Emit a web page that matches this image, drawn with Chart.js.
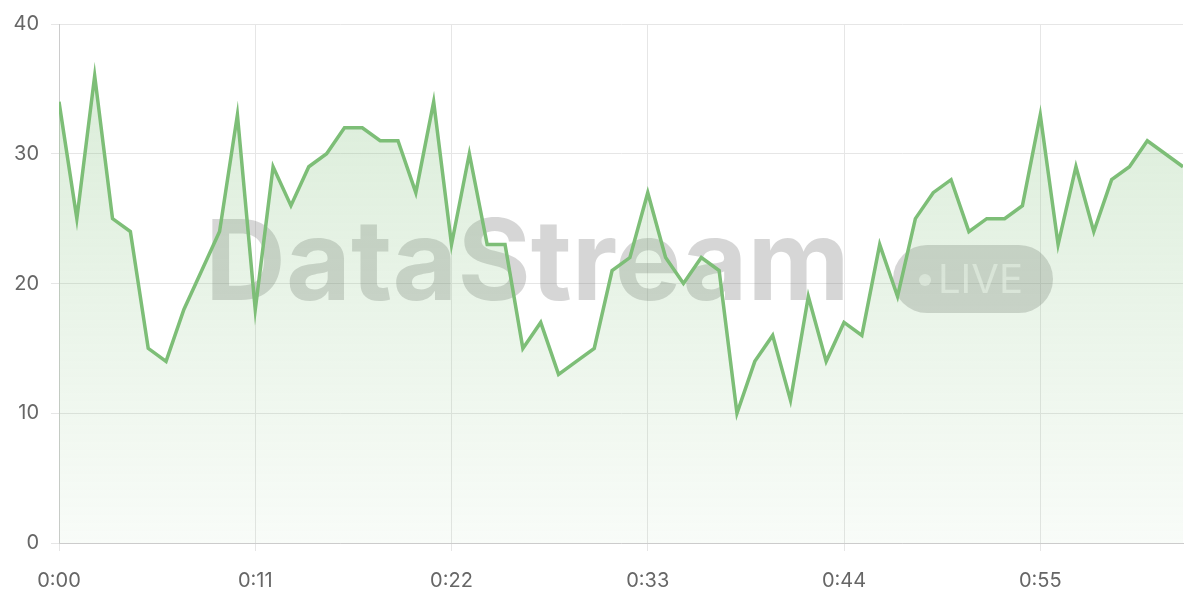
<!DOCTYPE html>
<html lang="en">
<head>
    <meta charset="UTF-8">
    <title>DataStream Live</title>
    <script src="https://cdn.jsdelivr.net/npm/chart.js"></script>
    <style>
        body { margin: 0; background: #fff; }
        #wrap { width: 1200px; height: 600px; }
    </style>
</head>
<body>
    <div id="wrap"><canvas id="streamChart"></canvas></div>
    <script>
        // one value per second, 0:00 .. 1:03
        const seconds = [...Array(64).keys()];
        const values = [34, 25, 36, 25, 24, 15, 14, 18, 21, 24, 33, 18, 29, 26, 29, 30,
                        32, 32, 31, 31, 27, 34, 23, 30, 23, 23, 15, 17, 13, 14, 15, 21,
                        22, 27, 22, 20, 22, 21, 10, 14, 16, 11, 19, 14, 17, 16, 23, 19,
                        25, 27, 28, 24, 25, 25, 26, 33, 23, 29, 24, 28, 29, 31, 30, 29];
        const tickSeconds = [0, 11, 22, 33, 44, 55];

        function fmtTime(s) {
            return Math.floor(s / 60) + ':' + String(s % 60).padStart(2, '0');
        }

        // watermark behind the line
        const watermark = {
            id: 'watermark',
            beforeDatasetsDraw(chart) {
                const c = chart.ctx;
                c.save();
                c.fillStyle = 'rgba(120,120,120,0.3)';
                c.font = 'bold 112px Inter, sans-serif';
                c.textBaseline = 'middle';
                c.fillText('DataStream', 205, 266);
                c.beginPath();
                c.roundRect(893, 245, 160, 68, 34);
                c.fill();
                c.fillStyle = 'rgba(255,255,255,0.55)';
                c.beginPath();
                c.arc(925, 280, 6, 0, Math.PI * 2);
                c.fill();
                c.font = '40px Inter, sans-serif';
                c.fillText('LIVE', 938, 281);
                c.restore();
            }
        };

        const ctx = document.getElementById('streamChart').getContext('2d');
        new Chart(ctx, {
            type: 'line',
            data: {
                datasets: [{
                    data: seconds.map((s, i) => ({ x: s, y: values[i] })),
                    borderColor: '#7dbe77',
                    borderWidth: 3.5,
                    pointRadius: 0,
                    tension: 0,
                    fill: true,
                    backgroundColor: (context) => {
                        const area = context.chart.chartArea;
                        if (!area) return 'rgba(125,190,119,0.2)';
                        const g = context.chart.ctx.createLinearGradient(0, area.top, 0, area.bottom);
                        g.addColorStop(0, 'rgba(125,190,119,0.3)');
                        g.addColorStop(1, 'rgba(125,190,119,0.05)');
                        return g;
                    }
                }]
            },
            options: {
                responsive: true,
                maintainAspectRatio: false,
                animation: false,
                layout: { padding: { top: 16, right: 17, left: 0, bottom: 0 } },
                plugins: { legend: { display: false }, tooltip: { enabled: false } },
                scales: {
                    x: {
                        type: 'linear',
                        min: 0,
                        max: 63,
                        afterBuildTicks: (axis) => { axis.ticks = tickSeconds.map(v => ({ value: v })); },
                        afterFit: (axis) => { axis.height = 57; },
                        ticks: {
                            color: '#666',
                            padding: 18,
                            font: { size: 20, family: 'Inter' },
                            callback: (v) => fmtTime(v)
                        },
                        grid: { color: '#e6e6e6', tickLength: 8 },
                        border: { color: '#ccc' }
                    },
                    y: {
                        min: 0,
                        max: 40,
                        afterFit: (axis) => { axis.width = 59; },
                        ticks: {
                            stepSize: 10,
                            color: '#666',
                            padding: 12,
                            font: { size: 20, family: 'Inter' }
                        },
                        grid: { color: '#e6e6e6' },
                        border: { color: '#ccc' }
                    }
                }
            },
            plugins: [watermark]
        });
    </script>
</body>
</html>
